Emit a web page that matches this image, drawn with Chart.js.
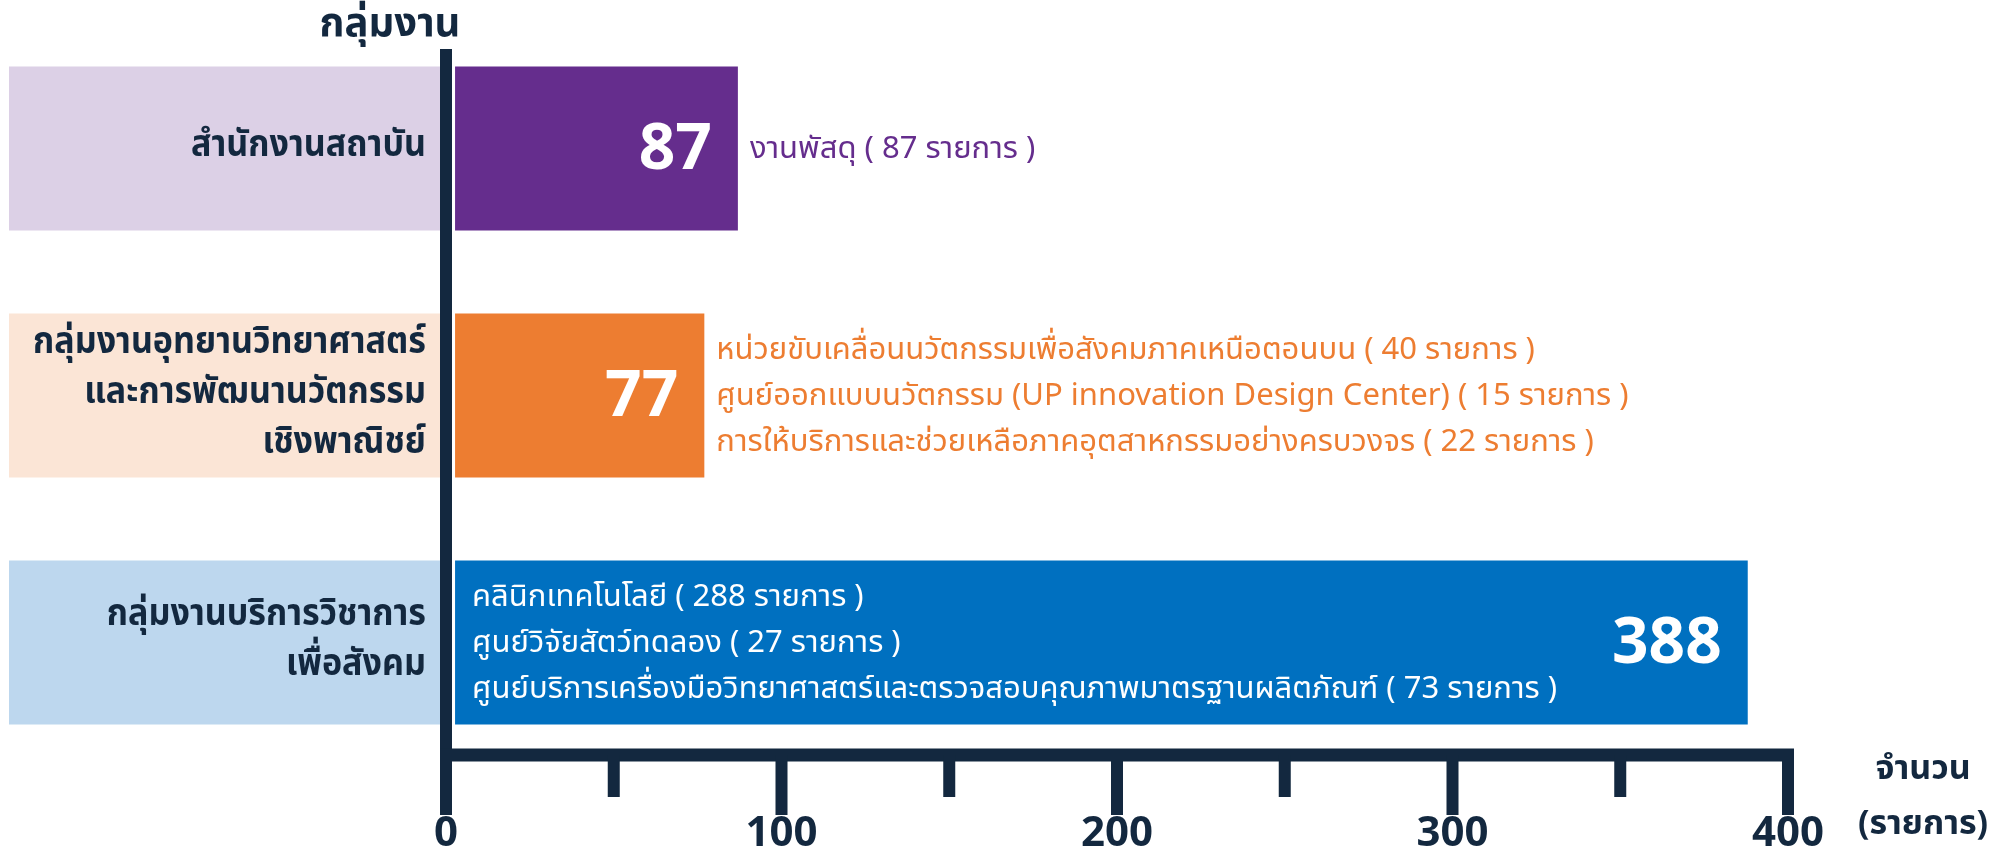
<!DOCTYPE html>
<html>
<head>
<meta charset="utf-8">
<script src="https://cdn.jsdelivr.net/npm/chart.js@4.4.1/dist/chart.umd.min.js"></script>
<style>
  html, body { margin: 0; padding: 0; background: #fff; }
</style>
</head>
<body>
<canvas id="unitChart" width="2004" height="858"></canvas>
<script>
// Data for the chart
const groups = [
  ["สำนักงานสถาบัน"],
  ["กลุ่มงานอุทยานวิทยาศาสตร์", "และการพัฒนานวัตกรรม", "เชิงพาณิชย์"],
  ["กลุ่มงานบริการวิชาการ", "เพื่อสังคม"]
];
const totals = [87, 77, 388];
const unitNames = [
  ["งานพัสดุ"],
  ["หน่วยขับเคลื่อนนวัตกรรมเพื่อสังคมภาคเหนือตอนบน",
   "ศูนย์ออกแบบนวัตกรรม (UP innovation Design Center)",
   "การให้บริการและช่วยเหลือภาคอุตสาหกรรมอย่างครบวงจร"],
  ["คลินิกเทคโนโลยี",
   "ศูนย์วิจัยสัตว์ทดลอง",
   "ศูนย์บริการเครื่องมือวิทยาศาสตร์และตรวจสอบคุณภาพมาตรฐานผลิตภัณฑ์"]
];
const unitCounts = [[87], [40, 15, 22], [288, 27, 73]];
const xMax = 400;
const xStep = 50;      // minor ticks every 50, labels every 100
const yTitle = "กลุ่มงาน";
const xTitle = ["จำนวน", "(รายการ)"];

// Colours
const barColors = ["#652d8d", "#ed7d31", "#0070c0"];
const boxColors = ["#dcd0e6", "#fbe5d6", "#bdd7ee"];
const noteColors = ["#652d8d", "#ed7d31", "#ffffff"];
const navy = "#13283f";
const thai = "'Noto Sans Thai', 'Noto Sans', sans-serif";
const latin = "'Noto Sans', sans-serif";

// text squeezed sideways, the original uses a narrow Thai face
function squeezed(ctx, text, x, y, sx) {
  ctx.save();
  ctx.translate(x, y);
  ctx.scale(sx, 1);
  ctx.fillText(text, 0, 0);
  ctx.restore();
}

// draws the label boxes, the group names, the thick axes, the totals and the unit notes
const decorations = {
  id: 'decorations',
  beforeDraw(chart) {
    const ctx = chart.ctx;
    const left = chart.chartArea.left;
    const ys = chart.scales.y;
    ctx.save();
    chart.getDatasetMeta(0).data.forEach((bar, i) => {
      const p = bar.getProps(['y', 'height'], true);
      ctx.fillStyle = boxColors[i];
      ctx.fillRect(9, p.y - p.height / 2, left - 6 - 9, p.height);
    });

    // group names, right aligned against the axis
    ctx.font = `bold 37px ${thai}`;
    ctx.fillStyle = navy;
    ctx.textAlign = 'right';
    ctx.textBaseline = 'middle';
    const widest = Math.max(...groups.flat().map(s => ctx.measureText(s).width));
    const sx = Math.min(1, 393 / widest);
    const gap = 50;
    groups.forEach((lines, i) => {
      const cy = ys.getPixelForValue(i);
      const y0 = cy - (lines.length - 1) * gap / 2;
      lines.forEach((s, k) => squeezed(ctx, s, left - 20, y0 + k * gap, sx));
    });
    ctx.restore();
  },
  afterDatasetsDraw(chart) {
    const ctx = chart.ctx;
    const xs = chart.scales.x;
    const area = chart.chartArea;
    const x0 = xs.getPixelForValue(0);
    const xEnd = xs.getPixelForValue(xMax);
    const axisY = area.bottom - 11;
    ctx.save();

    // axes
    ctx.fillStyle = navy;
    ctx.fillRect(x0 - 6, area.top + 24, 12, axisY + 60 - (area.top + 24));
    ctx.fillRect(x0 - 6, axisY - 6.5, xEnd + 6 - (x0 - 6), 13);
    xs.ticks.forEach(t => {
      const px = xs.getPixelForValue(t.value);
      ctx.fillRect(px - 6, axisY, 12, t.value % 100 === 0 ? 60 : 42);
    });

    // axis titles
    ctx.textAlign = 'center';
    ctx.textBaseline = 'alphabetic';
    ctx.font = `bold 40px ${thai}`;
    ctx.fillText(yTitle, x0 - 56, 36);
    ctx.font = `bold 34px ${thai}`;
    ctx.fillText(xTitle[0], 1923, 779);
    ctx.fillText(xTitle[1], 1923, 834);

    // totals and unit notes
    chart.getDatasetMeta(0).data.forEach((bar, i) => {
      const p = bar.getProps(['x', 'y', 'base', 'height'], true);
      ctx.fillStyle = '#ffffff';
      ctx.textAlign = 'right';
      ctx.textBaseline = 'middle';
      ctx.font = `bold 64px ${latin}`;
      ctx.fillText(String(totals[i]), p.x - 26, p.y + 2);

      const lines = unitNames[i].map((n, k) => `${n} ( ${unitCounts[i][k]} รายการ )`);
      const inside = p.x - p.base > 800;
      const tx = inside ? p.base + 17 : p.x + 12;
      const gap = 46;
      const y0 = p.y + 3 - (lines.length - 1) * gap / 2;
      ctx.fillStyle = noteColors[i];
      ctx.textAlign = 'left';
      ctx.font = `31px ${thai}`;
      lines.forEach((s, k) => ctx.fillText(s, tx, y0 + k * gap));
    });
    ctx.restore();
  }
};

const data = {
  labels: groups,
  datasets: [{
    data: totals,
    backgroundColor: barColors,
    base: 2.7,               // leaves the small white gap after the axis line
    barPercentage: 0.664,
    categoryPercentage: 1
  }]
};

const config = {
  type: 'bar',
  data: data,
  options: {
    indexAxis: 'y',
    responsive: false,
    animation: false,
    devicePixelRatio: 1,
    layout: { padding: { top: 25, right: 216, left: 446, bottom: 0 } },
    plugins: { legend: { display: false }, tooltip: { enabled: false } },
    scales: {
      x: {
        min: 0,
        max: xMax,
        grid: { display: false },
        border: { display: false },
        ticks: {
          stepSize: xStep,
          autoSkip: false,
          maxRotation: 0,
          padding: 35,
          color: navy,
          font: { family: latin, size: 42, weight: 'bold' },
          callback: v => (v % 100 === 0 ? v : '')
        },
        afterFit: s => { s.height = 92; }
      },
      y: {
        display: false
      }
    }
  },
  plugins: [decorations]
};

window.addEventListener('DOMContentLoaded', () => {
  new Chart(document.getElementById('unitChart'), config);
});
</script>
</body>
</html>
